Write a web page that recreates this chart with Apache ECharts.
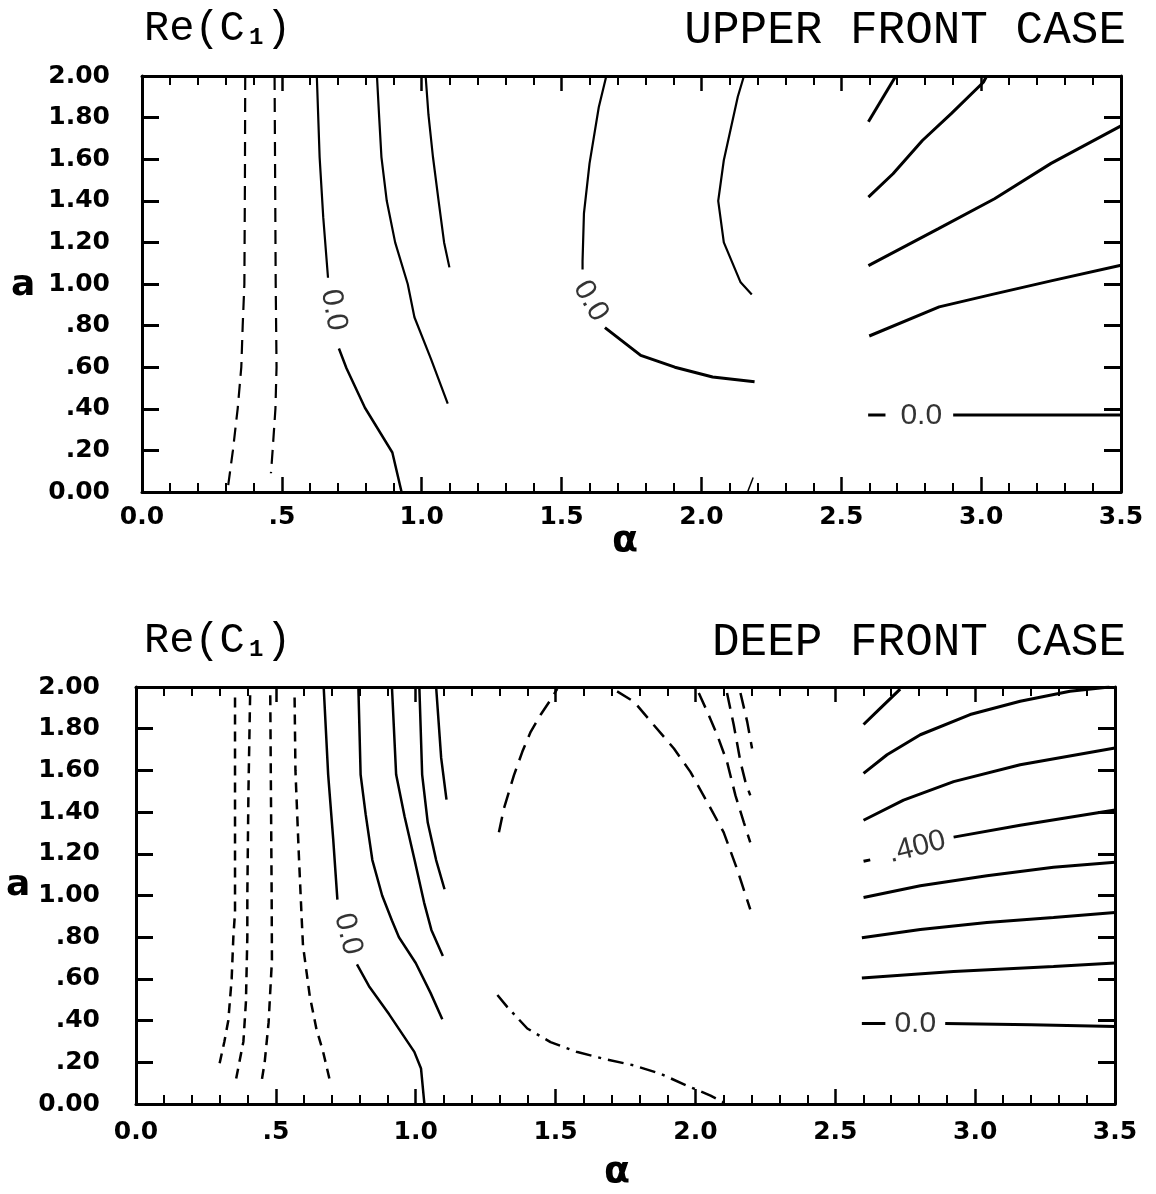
<!DOCTYPE html>
<html><head><meta charset="utf-8">
<script src="https://cdn.jsdelivr.net/npm/echarts@6/dist/echarts.min.js"></script>
<style>html,body{margin:0;padding:0;background:#fff;}#chart{width:1156px;height:1194px;}</style>
</head><body><div id="chart"></div>
<script>
// ---- tick labels ----
const xTickLabels = ['0.0','.5','1.0','1.5','2.0','2.5','3.0','3.5'];
const yTickLabels = ['0.00','.20','.40','.60','.80','1.00','1.20','1.40','1.60','1.80','2.00'];

// ---- UPPER FRONT CASE contours [alpha, a] ----
const upDash1 = [[0.369,2.0],[0.368,1.5],[0.366,1.0],[0.36,0.8],[0.355,0.6],[0.342,0.4],[0.325,0.2],[0.305,0.0]];
const upDash2 = [[0.474,2.0],[0.476,1.5],[0.478,1.0],[0.481,0.6],[0.477,0.4],[0.467,0.2],[0.461,0.09]];
const upZeroA1 = [[0.625,2.0],[0.635,1.61],[0.648,1.32],[0.665,1.03]];
const upZeroA2 = [[0.704,0.69],[0.731,0.595],[0.797,0.405],[0.895,0.19],[0.928,0.0]];
const upLine4 = [[0.84,2.0],[0.848,1.8],[0.856,1.61],[0.875,1.40],[0.905,1.2],[0.95,1.0],[0.974,0.84],[1.033,0.64],[1.093,0.425]];
const upLine5 = [[1.014,2.0],[1.024,1.815],[1.04,1.613],[1.06,1.403],[1.08,1.2],[1.099,1.08]];
const upZeroB1 = [[1.66,2.0],[1.633,1.85],[1.60,1.58],[1.58,1.34],[1.575,1.11],[1.575,1.07]];
const upZeroB2 = [[1.655,0.79],[1.783,0.657],[1.905,0.60],[2.04,0.553],[2.19,0.53]];
const upLine7 = [[2.152,2.0],[2.13,1.90],[2.08,1.595],[2.06,1.40],[2.08,1.2],[2.14,1.008],[2.18,0.95]];
const upTick = [[2.165,0.0],[2.185,0.07]];
const upLine8 = [[2.597,1.78],[2.695,2.0]];
const upLine9 = [[2.597,1.418],[2.685,1.53],[2.79,1.69],[2.894,1.82],[3.008,1.97],[3.02,2.0]];
const upLine10 = [[2.597,1.088],[2.846,1.265],[3.048,1.41],[3.25,1.58],[3.5,1.76]];
const upLine11 = [[2.6,0.75],[2.85,0.89],[3.04,0.95],[3.25,1.015],[3.5,1.09]];
const upZeroC1 = [[2.596,0.37],[2.658,0.37]];
const upZeroC2 = [[2.9,0.37],[3.5,0.37]];
const upLabelText = ['0.0','0.0','0.0'];
const upLabelPos = [[0.685,0.875],[1.604,0.918],[2.786,0.365]];
const upLabelRot = [-80,-60,0];

// ---- DEEP FRONT CASE contours [alpha, a] ----
const dpDash1 = [[0.354,1.95],[0.354,1.5],[0.354,0.92],[0.348,0.8],[0.342,0.6],[0.33,0.4],[0.316,0.3],[0.295,0.17]];
const dpDash2 = [[0.408,1.96],[0.402,1.5],[0.398,1.0],[0.398,0.8],[0.393,0.49],[0.384,0.3],[0.355,0.1]];
const dpDash3 = [[0.48,1.96],[0.485,1.0],[0.486,0.69],[0.474,0.39],[0.46,0.2],[0.448,0.1]];
const dpDash4 = [[0.567,1.95],[0.57,1.6],[0.582,1.2],[0.592,0.9],[0.597,0.76],[0.621,0.52],[0.645,0.36],[0.669,0.25],[0.697,0.09]];
const dpZeroA1 = [[0.671,2.0],[0.687,1.58],[0.705,1.27],[0.72,0.98]];
const dpZeroA2 = [[0.79,0.67],[0.833,0.565],[0.905,0.43],[0.995,0.25],[1.019,0.17],[1.031,0.0]];
const dpLine2 = [[0.795,2.0],[0.803,1.58],[0.821,1.39],[0.845,1.17],[0.88,1.0],[0.915,0.88],[0.94,0.8],[1.0,0.676],[1.053,0.533],[1.095,0.406]];
const dpLine3 = [[0.915,2.0],[0.93,1.58],[0.96,1.38],[0.996,1.17],[1.03,0.966],[1.056,0.835],[1.097,0.71]];
const dpLine4 = [[1.013,2.0],[1.023,1.58],[1.043,1.35],[1.073,1.17],[1.103,1.03]];
const dpLine5 = [[1.073,2.0],[1.091,1.66],[1.11,1.46]];
const dpArchL = [[1.2975,1.303],[1.315,1.416],[1.351,1.576],[1.381,1.689],[1.411,1.785],[1.446,1.866],[1.482,1.938],[1.506,1.991]];
const dpArchR = [[1.72,1.979],[1.78,1.93],[1.851,1.818],[1.923,1.705],[1.982,1.593],[2.042,1.448],[2.101,1.303],[2.149,1.126],[2.196,0.933]];
const dpT1 = [[2.012,1.971],[2.042,1.882],[2.078,1.769],[2.113,1.641],[2.143,1.48],[2.173,1.351],[2.196,1.255]];
const dpT2 = [[2.113,1.971],[2.137,1.818],[2.161,1.641],[2.179,1.544],[2.196,1.48]];
const dpT3 = [[2.161,1.971],[2.185,1.834],[2.2025,1.705]];
const dpDashDot = [[1.292,0.523],[1.327,0.466],[1.399,0.362],[1.482,0.297],[1.578,0.249],[1.672,0.217],[1.78,0.185],[1.875,0.145],[1.97,0.088],[2.054,0.04],[2.101,0.008]];
const dpR1 = [[2.601,1.82],[2.655,1.89],[2.732,1.99]];
const dpR2 = [[2.601,1.586],[2.685,1.675],[2.804,1.771],[2.982,1.868],[3.161,1.932],[3.339,1.98],[3.48,2.0]];
const dpR3 = [[2.601,1.361],[2.744,1.457],[2.923,1.546],[3.161,1.627],[3.5,1.707]];
const dpR4a = [[2.601,1.164],[2.625,1.171]];
const dpR4b = [[2.923,1.28],[3.161,1.337],[3.5,1.41]];
const dpR5 = [[2.601,0.99],[2.804,1.047],[3.042,1.095],[3.28,1.135],[3.5,1.159]];
const dpR6 = [[2.595,0.797],[2.804,0.837],[3.042,0.87],[3.28,0.894],[3.5,0.918]];
const dpR7 = [[2.595,0.604],[2.923,0.636],[3.28,0.66],[3.5,0.676]];
const dpR8a = [[2.595,0.386],[2.679,0.386]];
const dpR8b = [[2.893,0.386],[3.2,0.38],[3.5,0.372]];
const dpLabelText = ['0.0','.400','0.0'];
const dpLabelPos = [[0.758,0.815],[2.792,1.232],[2.786,0.386]];
const dpLabelRot = [-76,14,0];

// ---- build chart ----
const chart = echarts.init(document.getElementById('chart'), null, {renderer:'canvas'});
const tickFont = {fontFamily:'DejaVu Sans', fontSize:25, fontWeight:'bold', color:'#000'};
const grids = [
  {left:142, right:35, top:76, height:416},
  {left:136, right:41, top:687, height:417}
];
function xAxes(gi, margin){
  const base = {gridIndex:gi, type:'value', min:0, max:3.5, interval:0.5,
    axisLine:{onZero:false, lineStyle:{color:'#000', width:3}},
    axisTick:{inside:true, length:15, lineStyle:{color:'#000', width:2.5}},
    minorTick:{show:true, splitNumber:5, length:9, lineStyle:{color:'#000', width:2}},
    splitLine:{show:false}, minorSplitLine:{show:false}};
  return [
    Object.assign({}, base, {position:'bottom', axisLabel:Object.assign({margin:margin, formatter:v=>xTickLabels[Math.round(v/0.5)]}, tickFont)}),
    Object.assign({}, base, {position:'top', axisLabel:{show:false}})
  ];
}
function yAxes(gi, margin){
  const base = {gridIndex:gi, type:'value', min:0, max:2, interval:0.2,
    axisLine:{onZero:false, lineStyle:{color:'#000', width:3}},
    axisTick:{inside:true, length:17, lineStyle:{color:'#000', width:3}},
    splitLine:{show:false}};
  return [
    Object.assign({}, base, {position:'left', axisLabel:Object.assign({margin:margin, formatter:v=>yTickLabels[Math.round(v/0.2)]}, tickFont)}),
    Object.assign({}, base, {position:'right', axisLabel:{show:false}})
  ];
}
const series = [];
function addLine(data, axisIdx, type, width){
  series.push({type:'line', data:data, xAxisIndex:axisIdx, yAxisIndex:axisIdx, symbol:'none', silent:true,
    lineStyle:{color:'#000', width:width||2.5, type:type||'solid'}});
}
const dashA = [14,8], dashB = [10,7], dashC = [16,9], dashDot = [16,7,3,7];
// upper
addLine(upDash1,0,dashA,2.2); addLine(upDash2,0,dashA,2.2);
addLine(upZeroA1,0,'solid',2.2); addLine(upZeroA2,0,'solid',2.5);
addLine(upLine4,0,'solid',2.2); addLine(upLine5,0,'solid',2.2);
addLine(upZeroB1,0,'solid',2.2); addLine(upZeroB2,0,'solid',3);
addLine(upLine7,0,'solid',2.2); addLine(upTick,0,'solid',1.5);
addLine(upLine8,0,'solid',3); addLine(upLine9,0,'solid',3); addLine(upLine10,0,'solid',3);
addLine(upLine11,0,'solid',3); addLine(upZeroC1,0,'solid',3); addLine(upZeroC2,0,'solid',3);
// deep
[dpDash1,dpDash2,dpDash3,dpDash4].forEach(d=>addLine(d,2,dashB,2.5));
[dpZeroA1,dpZeroA2,dpLine2,dpLine3,dpLine4,dpLine5].forEach(d=>addLine(d,2,'solid',2.5));
[dpArchL,dpArchR,dpT1,dpT2,dpT3].forEach(d=>addLine(d,2,dashC,2.5));
addLine(dpDashDot,2,dashDot,2.5);
[dpR1,dpR2,dpR3,dpR4a,dpR4b,dpR5,dpR6,dpR7,dpR8a,dpR8b].forEach(d=>addLine(d,2,'solid',3));
function addLabels(texts, pos, rots, axisIdx){
  series.push({type:'scatter', xAxisIndex:axisIdx, yAxisIndex:axisIdx, symbolSize:0, silent:true,
    data: texts.map((t,i)=>({name:t, value:pos[i], label:{rotate:rots[i]}})),
    label:{show:true, position:'inside', formatter:p=>p.name, fontFamily:'Liberation Sans', fontSize:30,
      color:'#000', textBorderWidth:0, textBorderColor:'transparent'}});
}
addLabels(upLabelText, upLabelPos, upLabelRot, 0);
addLabels(dpLabelText, dpLabelPos, dpLabelRot, 2);

const serif = 'Liberation Mono';
function title(y, right){
  return [
    {type:'text', left:144, top:y, style:{text:'Re(C', font:'42px "'+serif+'"', fill:'#000'}},
    {type:'text', left:249, top:y+18, style:{text:'1', font:'bold 24px "'+serif+'"', fill:'#000'}},
    {type:'text', left:266, top:y, style:{text:')', font:'42px "'+serif+'"', fill:'#000'}},
    {type:'text', right:30, top:y, style:{text:right, font:'46px "'+serif+'"', fill:'#000'}}
  ];
}
const graphic = [].concat(
  title(8, 'UPPER FRONT CASE'),
  title(620, 'DEEP FRONT CASE'),
  [
    {type:'text', left:11, top:268, style:{text:'a', font:'bold 36px "DejaVu Sans"', fill:'#000'}},
    {type:'text', left:6, top:868, style:{text:'a', font:'bold 36px "DejaVu Sans"', fill:'#000'}},
    {type:'text', left:612, top:522, style:{text:'α', font:'bold 38px "DejaVu Sans"', fill:'#000'}},
    {type:'text', left:604, top:1153, style:{text:'α', font:'bold 38px "DejaVu Sans"', fill:'#000'}}
  ]
);

chart.setOption({
  animation:false,
  backgroundColor:'#fff',
  grid:grids,
  xAxis:[].concat(xAxes(0,13), xAxes(1,16)),
  yAxis:[].concat(yAxes(0,32), yAxes(1,36)),
  series:series,
  graphic:graphic
});
</script></body></html>
